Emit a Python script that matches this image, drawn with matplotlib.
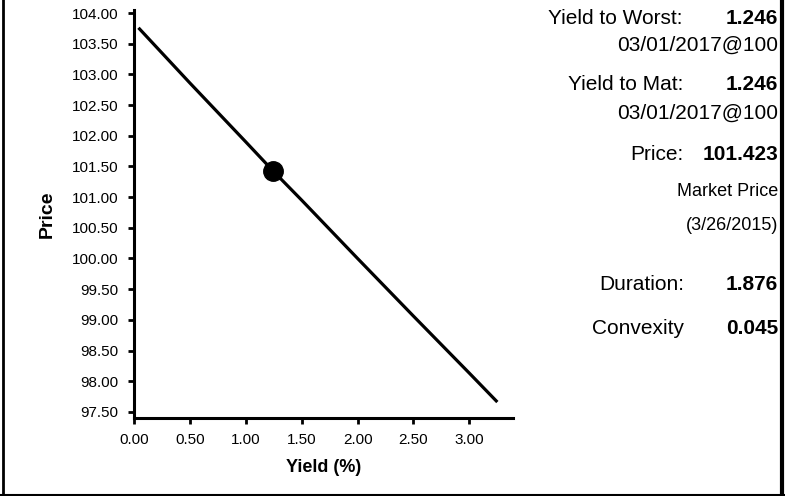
import matplotlib
matplotlib.use("Agg")
import matplotlib.pyplot as plt
from matplotlib.lines import Line2D

plt.rcParams['font.family'] = ['Liberation Sans', 'DejaVu Sans']

# data
yields = [0.04, 0.5, 1.0, 1.246, 1.5, 2.0, 2.5, 3.0, 3.25]
prices = [103.76, 102.86, 101.90, 101.423, 100.95, 100.00, 99.06, 98.13, 97.66]
current_yield = [1.246]
current_price = [101.423]
x_ticks = [0.0, 0.5, 1.0, 1.5, 2.0, 2.5, 3.0]
y_ticks = [97.5, 98.0, 98.5, 99.0, 99.5, 100.0, 100.5, 101.0, 101.5,
           102.0, 102.5, 103.0, 103.5, 104.0]

W, H = 785, 496
fig = plt.figure(figsize=(W / 100, H / 100), dpi=100)
ax = fig.add_axes([134 / W, 78 / H, (513 - 134) / W, (418 - 10) / H])

ax.plot(yields, prices, color='black', lw=2.3, solid_capstyle='butt')
ax.plot(current_yield, current_price, 'o', color='black', ms=14)

ax.set_xlim(0, 3.39)
ax.set_ylim(97.40, 104.05)
ax.set_xticks(x_ticks)
ax.set_xticklabels([f"{v:.2f}" for v in x_ticks])
ax.set_yticks(y_ticks)
ax.set_yticklabels([f"{v:.2f}" for v in y_ticks])
for s in ['top', 'right']:
    ax.spines[s].set_visible(False)
for s in ['left', 'bottom']:
    ax.spines[s].set_linewidth(2.2)
ax.tick_params(axis='both', direction='out', length=4.5, width=2, labelsize=11,
               colors='black')
ax.tick_params(axis='y', pad=7)
ax.tick_params(axis='x', pad=6)
ax.set_xlabel('Yield (%)', fontsize=13, fontweight='bold', labelpad=9)
ax.set_ylabel('Price', fontsize=14, fontweight='bold', labelpad=11)

# info panel on the right
def t(x, y, s, size=15, weight='normal'):
    fig.text(x / W, 1 - y / H, s, ha='right', va='center', fontsize=size,
             fontweight=weight, color='black')

t(683, 18, 'Yield to Worst:')
t(778, 18, '1.246', weight='bold')
t(778, 45, '03/01/2017@100')
t(683, 85, 'Yield to Mat:')
t(778, 85, '1.246', weight='bold')
t(778, 113, '03/01/2017@100')
t(683, 155, 'Price:')
t(778, 155, '101.423', weight='bold')
t(778, 192, 'Market Price', size=13)
t(778, 225, '(3/26/2015)', size=13)
t(684, 284, 'Duration:')
t(778, 284, '1.876', weight='bold')
t(684, 329, 'Convexity')
t(778, 329, '0.045', weight='bold')

# scanned frame edges
fig.add_artist(Line2D([3 / W, 3 / W], [0, 1], color='black', lw=2))
fig.add_artist(Line2D([782 / W, 782 / W], [0, 1], color='black', lw=3))
fig.add_artist(Line2D([0, 1], [1.5 / H, 1.5 / H], color='black', lw=1.5))

fig.savefig('out.png', dpi=100)
